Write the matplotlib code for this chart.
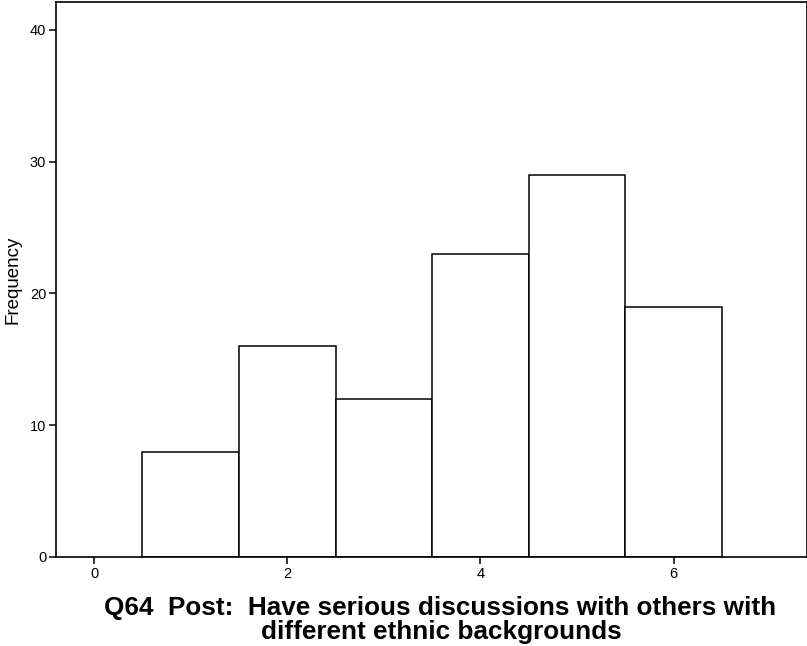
import matplotlib
matplotlib.use("Agg")
import matplotlib.pyplot as plt

plt.rcParams['font.family'] = ['Liberation Sans', 'DejaVu Sans']

# Response scale values and their frequencies
categories = [1, 2, 3, 4, 5, 6]
frequencies = [8, 16, 12, 23, 29, 19]
xticks = [0, 2, 4, 6]
yticks = [0, 10, 20, 30, 40]
title_lines = ["Q64  Post:  Have serious discussions with others with",
               "different ethnic backgrounds"]

fig = plt.figure(figsize=(8.07, 6.46), dpi=100)
ax = fig.add_axes([56 / 807, 89 / 646, 751 / 807, 555 / 646])

ax.bar(categories, frequencies, width=1.0, facecolor='white',
       edgecolor='black', linewidth=1.1)

ax.set_xlim(-0.394, 7.38)
ax.set_ylim(0, 42.1)
ax.set_xticks(xticks)
ax.set_yticks(yticks)
ax.tick_params(axis='both', direction='out', length=5, width=1.1,
               labelsize=10.5, pad=2)
for s in ax.spines.values():
    s.set_linewidth(1.2)

ax.set_ylabel("Frequency", fontsize=13.5, labelpad=6)

fig.text(440 / 807, 1 - 608 / 646, title_lines[0], ha='center', va='center',
         fontsize=18.8, fontweight='bold')
fig.text(441 / 807, 1 - 632 / 646, title_lines[1], ha='center', va='center',
         fontsize=18.8, fontweight='bold')

fig.savefig("out.png", dpi=100)
